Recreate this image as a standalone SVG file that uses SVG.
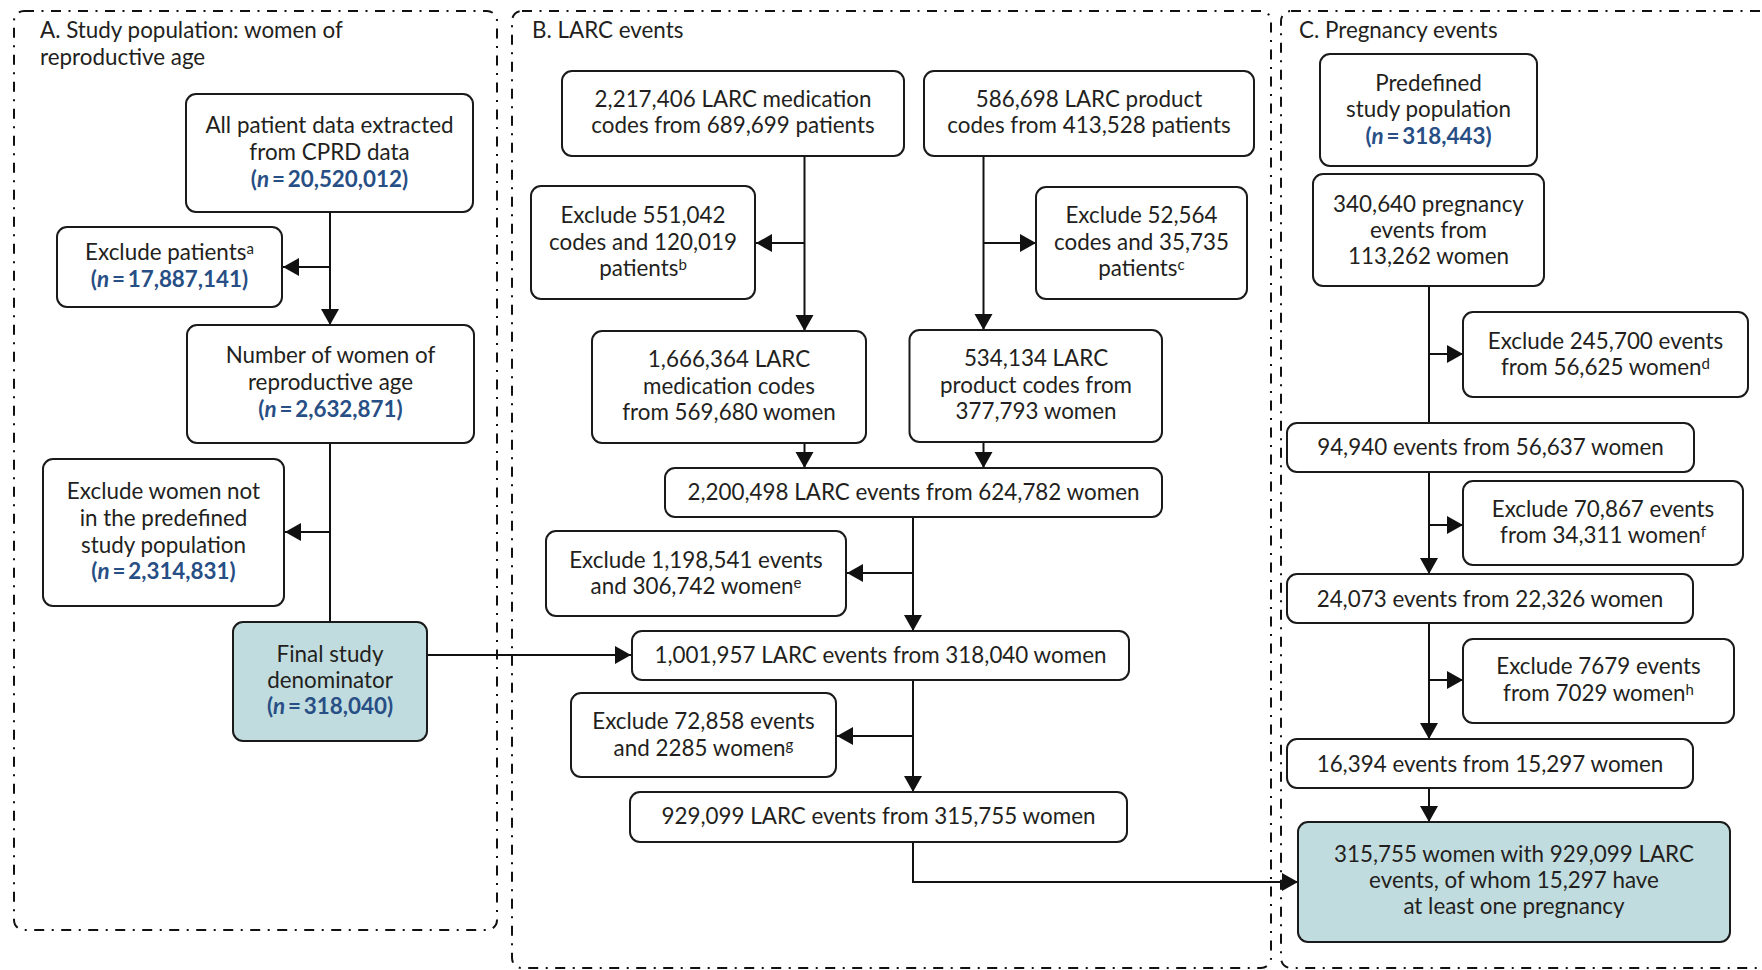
<svg xmlns="http://www.w3.org/2000/svg" width="1762" height="970" viewBox="0 0 1762 970">
  <style>
    text { font-family: Lato, "Open Sans", "Liberation Sans", sans-serif; font-size: 22.4px; fill: #231f20; }
    .c { text-anchor: middle; }
    .n { fill: #284f85; font-weight: bold; }
    .box { fill: #ffffff; stroke: #1a1a1a; stroke-width: 2; }
    .hl { fill: #c1dcdf; stroke: #1a1a1a; stroke-width: 2; }
    .panel { fill: none; stroke: #111111; stroke-width: 2; stroke-dasharray: 10 7.5 2 7.5; }
    .ln { fill: none; stroke: #111111; stroke-width: 2; }
    .sup { font-size: 15px; }
  </style>
  <defs>
    <marker id="ah" markerUnits="userSpaceOnUse" markerWidth="17" markerHeight="19" refX="16" refY="9" orient="auto">
      <path d="M0,0 L16,9 L0,18 z" fill="#111111"/>
    </marker>
  </defs>
  <rect width="1762" height="970" fill="#ffffff"/>

  <!-- Panels -->
  <g id="panels">
    <rect class="panel" x="14" y="11" width="483" height="919" rx="10"/>
    <rect class="panel" x="512" y="11" width="759" height="957" rx="10"/>
    <rect class="panel" x="1281" y="11" width="520" height="957" rx="10"/>
    <text x="40" y="38">A. Study population: women of</text>
    <text x="40" y="65">reproductive age</text>
    <text x="532" y="38">B. LARC events</text>
    <text x="1299" y="38">C. Pregnancy events</text>
  </g>

  <!-- Connectors -->
  <g id="connectors">
    <path class="ln" d="M330,212 V325" marker-end="url(#ah)"/>
    <path class="ln" d="M330,267 H283" marker-end="url(#ah)"/>
    <path class="ln" d="M330,443 V622"/>
    <path class="ln" d="M330,532 H285" marker-end="url(#ah)"/>
    <path class="ln" d="M427,655 H631" marker-end="url(#ah)"/>

    <path class="ln" d="M804.5,156 V331" marker-end="url(#ah)"/>
    <path class="ln" d="M804.5,243 H756" marker-end="url(#ah)"/>
    <path class="ln" d="M983.5,156 V330" marker-end="url(#ah)"/>
    <path class="ln" d="M983.5,243 H1036" marker-end="url(#ah)"/>
    <path class="ln" d="M804.5,443 V468" marker-end="url(#ah)"/>
    <path class="ln" d="M983.5,442 V468" marker-end="url(#ah)"/>
    <path class="ln" d="M913,517 V631" marker-end="url(#ah)"/>
    <path class="ln" d="M913,573 H847" marker-end="url(#ah)"/>
    <path class="ln" d="M913,680 V792" marker-end="url(#ah)"/>
    <path class="ln" d="M913,736 H837" marker-end="url(#ah)"/>
    <path class="ln" d="M913,842 V882 H1298" marker-end="url(#ah)"/>

    <path class="ln" d="M1429,286 V423"/>
    <path class="ln" d="M1429,354 H1463" marker-end="url(#ah)"/>
    <path class="ln" d="M1429,472 V574" marker-end="url(#ah)"/>
    <path class="ln" d="M1429,525 H1463" marker-end="url(#ah)"/>
    <path class="ln" d="M1429,623 V739" marker-end="url(#ah)"/>
    <path class="ln" d="M1429,680 H1463" marker-end="url(#ah)"/>
    <path class="ln" d="M1429,788 V822" marker-end="url(#ah)"/>
  </g>

  <!-- A. Study population -->
  <g id="a-all-patients">
    <rect class="box" x="186" y="94" width="287" height="118" rx="10"/>
    <text class="c" x="329.5" y="133">All patient data extracted</text>
    <text class="c" x="329.5" y="160">from CPRD data</text>
    <text class="c n" x="329.5" y="187">(<tspan font-style="italic">n</tspan>&#8201;=&#8201;20,520,012)</text>
  </g>
  <g id="a-exclude-patients">
    <rect class="box" x="57" y="227" width="225" height="80" rx="10"/>
    <text class="c" x="169.5" y="260">Exclude patients<tspan class="sup" dy="-6">a</tspan></text>
    <text class="c n" x="169.5" y="287">(<tspan font-style="italic">n</tspan>&#8201;=&#8201;17,887,141)</text>
  </g>
  <g id="a-reproductive-age">
    <rect class="box" x="187" y="325" width="287" height="118" rx="10"/>
    <text class="c" x="330.5" y="363">Number of women of</text>
    <text class="c" x="330.5" y="390">reproductive age</text>
    <text class="c n" x="330.5" y="417">(<tspan font-style="italic">n</tspan>&#8201;=&#8201;2,632,871)</text>
  </g>
  <g id="a-exclude-women">
    <rect class="box" x="43" y="459" width="241" height="147" rx="10"/>
    <text class="c" x="163.5" y="499">Exclude women not</text>
    <text class="c" x="163.5" y="526">in the predefined</text>
    <text class="c" x="163.5" y="553">study population</text>
    <text class="c n" x="163.5" y="579">(<tspan font-style="italic">n</tspan>&#8201;=&#8201;2,314,831)</text>
  </g>
  <g id="a-final-denominator">
    <rect class="hl" x="233" y="622" width="194" height="119" rx="10"/>
    <text class="c" x="330" y="662">Final study</text>
    <text class="c" x="330" y="688">denominator</text>
    <text class="c n" x="330" y="714">(<tspan font-style="italic">n</tspan>&#8201;=&#8201;318,040)</text>
  </g>

  <!-- B. LARC events -->
  <g id="b-medication-codes">
    <rect class="box" x="562" y="71" width="342" height="85" rx="10"/>
    <text class="c" x="733" y="107">2,217,406 LARC medication</text>
    <text class="c" x="733" y="133">codes from 689,699 patients</text>
  </g>
  <g id="b-product-codes">
    <rect class="box" x="924" y="71" width="330" height="85" rx="10"/>
    <text class="c" x="1089" y="107">586,698 LARC product</text>
    <text class="c" x="1089" y="133">codes from 413,528 patients</text>
  </g>
  <g id="b-exclude-b">
    <rect class="box" x="531" y="186" width="224" height="113" rx="10"/>
    <text class="c" x="643" y="223">Exclude 551,042</text>
    <text class="c" x="643" y="250">codes and 120,019</text>
    <text class="c" x="643" y="276">patients<tspan class="sup" dy="-6">b</tspan></text>
  </g>
  <g id="b-exclude-c">
    <rect class="box" x="1036" y="187" width="211" height="112" rx="10"/>
    <text class="c" x="1141.5" y="223">Exclude 52,564</text>
    <text class="c" x="1141.5" y="250">codes and 35,735</text>
    <text class="c" x="1141.5" y="276">patients<tspan class="sup" dy="-6">c</tspan></text>
  </g>
  <g id="b-medication-women">
    <rect class="box" x="592" y="331" width="274" height="112" rx="10"/>
    <text class="c" x="729" y="367">1,666,364 LARC</text>
    <text class="c" x="729" y="394">medication codes</text>
    <text class="c" x="729" y="420">from 569,680 women</text>
  </g>
  <g id="b-product-women">
    <rect class="box" x="909.5" y="330" width="252.5" height="112" rx="10"/>
    <text class="c" x="1036" y="366">534,134 LARC</text>
    <text class="c" x="1036" y="393">product codes from</text>
    <text class="c" x="1036" y="419">377,793 women</text>
  </g>
  <g id="b-events-all">
    <rect class="box" x="665" y="468" width="497" height="49" rx="10"/>
    <text class="c" x="913.5" y="500">2,200,498 LARC events from 624,782 women</text>
  </g>
  <g id="b-exclude-e">
    <rect class="box" x="546" y="531" width="300" height="85" rx="10"/>
    <text class="c" x="696" y="568">Exclude 1,198,541 events</text>
    <text class="c" x="696" y="594">and 306,742 women<tspan class="sup" dy="-6">e</tspan></text>
  </g>
  <g id="b-events-denominator">
    <rect class="box" x="632" y="631" width="497" height="49" rx="10"/>
    <text class="c" x="880.5" y="663">1,001,957 LARC events from 318,040 women</text>
  </g>
  <g id="b-exclude-g">
    <rect class="box" x="571" y="693" width="265" height="84" rx="10"/>
    <text class="c" x="703.5" y="729">Exclude 72,858 events</text>
    <text class="c" x="703.5" y="756">and 2285 women<tspan class="sup" dy="-6">g</tspan></text>
  </g>
  <g id="b-events-final">
    <rect class="box" x="630" y="792" width="497" height="50" rx="10"/>
    <text class="c" x="878.5" y="824">929,099 LARC events from 315,755 women</text>
  </g>

  <!-- C. Pregnancy events -->
  <g id="c-predefined">
    <rect class="box" x="1320" y="54" width="217" height="112" rx="10"/>
    <text class="c" x="1428.5" y="91">Predefined</text>
    <text class="c" x="1428.5" y="117">study population</text>
    <text class="c n" x="1428.5" y="144">(<tspan font-style="italic">n</tspan>&#8201;=&#8201;318,443)</text>
  </g>
  <g id="c-pregnancy-events">
    <rect class="box" x="1313" y="174" width="231" height="112" rx="10"/>
    <text class="c" x="1428.5" y="212">340,640 pregnancy</text>
    <text class="c" x="1428.5" y="238">events from</text>
    <text class="c" x="1428.5" y="264">113,262 women</text>
  </g>
  <g id="c-exclude-d">
    <rect class="box" x="1463" y="312" width="285" height="85" rx="10"/>
    <text class="c" x="1605.5" y="349">Exclude 245,700 events</text>
    <text class="c" x="1605.5" y="375">from 56,625 women<tspan class="sup" dy="-6">d</tspan></text>
  </g>
  <g id="c-events-94940">
    <rect class="box" x="1287" y="423" width="407" height="49" rx="10"/>
    <text class="c" x="1490.5" y="455">94,940 events from 56,637 women</text>
  </g>
  <g id="c-exclude-f">
    <rect class="box" x="1463" y="481" width="280" height="84" rx="10"/>
    <text class="c" x="1603" y="517">Exclude 70,867 events</text>
    <text class="c" x="1603" y="543">from 34,311 women<tspan class="sup" dy="-6">f</tspan></text>
  </g>
  <g id="c-events-24073">
    <rect class="box" x="1287" y="574" width="406" height="49" rx="10"/>
    <text class="c" x="1490" y="607">24,073 events from 22,326 women</text>
  </g>
  <g id="c-exclude-h">
    <rect class="box" x="1463" y="639" width="271" height="84" rx="10"/>
    <text class="c" x="1598.5" y="674">Exclude 7679 events</text>
    <text class="c" x="1598.5" y="701">from 7029 women<tspan class="sup" dy="-6">h</tspan></text>
  </g>
  <g id="c-events-16394">
    <rect class="box" x="1287" y="739" width="406" height="49" rx="10"/>
    <text class="c" x="1490" y="772">16,394 events from 15,297 women</text>
  </g>
  <g id="c-final">
    <rect class="hl" x="1298" y="822" width="432" height="120" rx="10"/>
    <text class="c" x="1514" y="862">315,755 women with 929,099 LARC</text>
    <text class="c" x="1514" y="888">events, of whom 15,297 have</text>
    <text class="c" x="1514" y="914">at least one pregnancy</text>
  </g>
</svg>
